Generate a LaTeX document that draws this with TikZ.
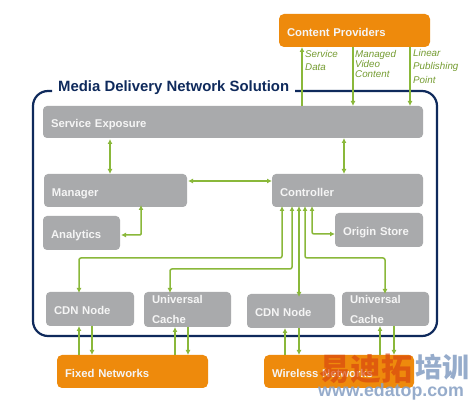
\documentclass[tikz,border=0pt]{standalone}
\usepackage{fontspec}
\setmainfont{Liberation Sans}
\newfontfamily\cjkwm{Noto Sans CJK SC}
\usetikzlibrary{arrows.meta}
\definecolor{boxgray}{HTML}{A9AAAC}
\definecolor{orng}{HTML}{EE8A0C}
\definecolor{grn}{HTML}{8AB83A}
\definecolor{navy}{HTML}{0F2A5C}
\definecolor{wmred}{HTML}{D9480F}
\definecolor{wmblue}{HTML}{8BA3C6}
\tikzset{
  x=1pt,y=-1pt,
  basebox/.style={rounded corners=4pt,anchor=north west,inner ysep=0pt,inner xsep=8pt,outer sep=0pt,align=left,
    font=\bfseries\fontsize{11.3}{20}\selectfont,text=white!96!black},
  graybox/.style={basebox,fill=boxgray},
  orangebox/.style={basebox,fill=orng,rounded corners=5pt},
  sized/.style 2 args={minimum width=#1pt,minimum height=#2pt,text width=#1pt-16pt},
  oneline/.style={text height=12pt,text depth=0pt},
  arr/.style={draw=grn,line width=1.5pt,-{Latex[length=5pt,width=5pt]}},
  biarr/.style={draw=grn,line width=1.5pt,{Latex[length=5pt,width=5pt]}-{Latex[length=5pt,width=5pt]}},
  glabel/.style={anchor=north west,inner sep=0pt,text=grn!85!black,align=left,
    font=\itshape\fontsize{9.8}{13.5}\selectfont},
  frameline/.style={draw=navy,line width=2.2pt},
}
\begin{document}
\begin{tikzpicture}
\useasboundingbox[fill=white] (0,0) rectangle (472,403);
% frame
\draw[frameline,rounded corners=15pt] (52,91) -- (33,91) -- (33,336) -- (437,336) -- (437,91) -- (295,91);
\node[anchor=west,inner sep=0pt,text=navy,font=\bfseries\fontsize{14.9}{17}\selectfont] (title) at (58,88) {Media Delivery Network Solution};
% boxes
\node[orangebox,oneline,sized={151}{33}] (cp) at (279,14) {Content Providers};
\node[graybox,oneline,sized={380}{32}] (se) at (43,106) {Service Exposure};
\node[graybox,oneline,sized={143}{33}] (mgr) at (44,174) {Manager};
\node[graybox,oneline,sized={77}{34}] (ana) at (43,216) {Analytics};
\node[graybox,oneline,sized={151}{33}] (ctl) at (272,174) {Controller};
\node[graybox,oneline,sized={88}{34}] (org) at (335,213) {Origin Store};
\node[graybox,oneline,sized={88}{34}] (cdna) at (46,292) {CDN Node};
\node[graybox,sized={87}{35}] (uca) at (144,292) {Universal\\Cache};
\node[graybox,oneline,sized={88}{34}] (cdnb) at (247,294) {CDN Node};
\node[graybox,sized={87}{34}] (ucb) at (342,292) {Universal\\Cache};
\node[orangebox,oneline,sized={151}{33}] (fix) at (57,355) {Fixed Networks};
\node[orangebox,oneline,sized={150}{33}] (wl) at (264,355) {Wireless Networks};
% guide coordinates
\foreach \n/\v in {xa/302,xb/353,xc/410,xd/110,xe/344,xf/141,xg/282,xh/292,xi/299,xj/305,xk/312,
  xl/79,xm/92,xn/175,xo/188,xp/285,xq/299,xr/380,xs/394,xt/170,xu/385}
  {\coordinate (\n) at (\v,0);}
\foreach \n/\v in {ya/181,yb/235,yc/258,yd/269,ye/234,yf/263}
  {\coordinate (\n) at (0,\v);}
% top
\draw[arr] (se.north -| xa) -- (cp.south -| xa);
\draw[arr] (cp.south -| xb) -- (se.north -| xb);
\draw[arr] (cp.south -| xc) -- (se.north -| xc);
\node[glabel] (l1) at (305,50) {Service\\Data};
\node[glabel,font=\itshape\fontsize{9.8}{8.5}\selectfont] (l2) at (355,50) {Managed\\Video};
\node[glabel] (l2b) at (355,70) {Content};
\node[glabel] (l3) at (413,49) {Linear\\Publishing\\Point};
% middle
\draw[biarr] ([yshift=-1pt]se.south -| xd) -- (mgr.north -| xd);
\draw[biarr] (se.south -| xe) -- (ctl.north -| xe);
\draw[biarr] ([xshift=1pt]mgr.east |- ya) -- (ctl.west |- ya);
\draw[biarr,rounded corners=1pt] ([yshift=2pt]mgr.south -| xf) -- (xf |- yb) -- ([xshift=1pt]ana.east |- yb);
% controller fan-out
\draw[biarr,rounded corners=2pt] ([yshift=1pt]ctl.south -| xg) -- (xg |- yc) -- (xl |- yc) -- ([yshift=-1pt]cdna.north -| xl);
\draw[biarr,rounded corners=2pt] ([yshift=1pt]ctl.south -| xh) -- (xh |- yd) -- (xt |- yd) -- ([yshift=-1pt]uca.north -| xt);
\draw[biarr] ([yshift=1pt]ctl.south -| xi) -- ([yshift=-3pt]cdnb.north -| xi);
\draw[biarr,rounded corners=2pt] ([yshift=1pt]ctl.south -| xj) -- (xj |- yc) -- (xu |- yc) -- ([yshift=-2pt]ucb.north -| xu);
\draw[biarr,rounded corners=2pt] ([yshift=1pt]ctl.south -| xk) -- (xk |- ye) -- (org.west |- ye);
% bottom
\draw[arr] (fix.north -| xl) -- (cdna.south -| xl);
\draw[arr] (cdna.south -| xm) -- (fix.north -| xm);
\draw[arr] (fix.north -| xn) -- (uca.south -| xn);
\draw[arr] (uca.south -| xo) -- (fix.north -| xo);
\draw[arr] (wl.north -| xp) -- (cdnb.south -| xp);
\draw[arr] (cdnb.south -| xq) -- (wl.north -| xq);
\draw[arr] (wl.north -| xr) -- (ucb.south -| xr);
\draw[arr] (ucb.south -| xs) -- (wl.north -| xs);
% watermark
\node[anchor=west,inner sep=0pt,text=wmred,opacity=.7,font=\cjkwm\bfseries\fontsize{31}{31}\selectfont] (wma) at (319,369) {易迪拓};
\node[anchor=west,inner sep=0pt,text=wmblue,opacity=.9,font=\cjkwm\bfseries\fontsize{27}{27}\selectfont] (wmb) at (415,367) {培训};
\node[anchor=west,inner sep=0pt,text=wmblue,opacity=.9,font=\bfseries\fontsize{17.8}{20}\selectfont] (wmc) at (318,392) {www.edatop.com};
\end{tikzpicture}
\end{document}
